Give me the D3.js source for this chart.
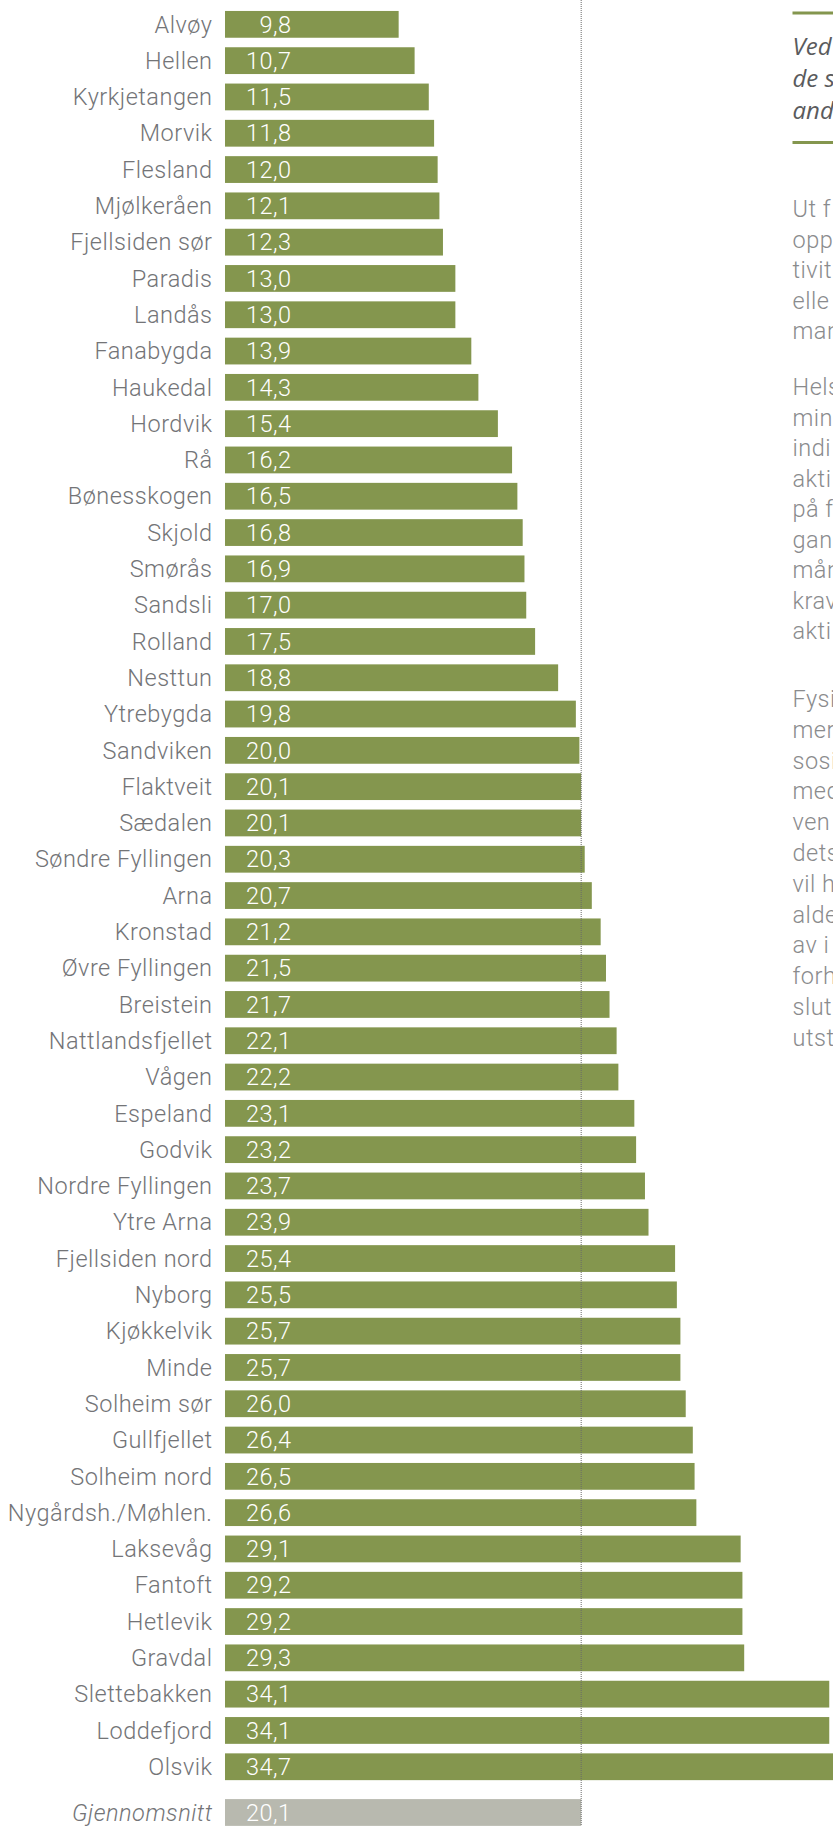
<!DOCTYPE html>
<html>
<head>
<meta charset="utf-8">
<script src="https://cdn.jsdelivr.net/npm/d3@7"></script>
<style>
  body { margin: 0; background: #fff; }
  svg { display: block; }
</style>
</head>
<body>
<svg id="chart"></svg>
<script>
const areas = ["Alvøy", "Hellen", "Kyrkjetangen", "Morvik", "Flesland", "Mjølkeråen", "Fjellsiden sør",
  "Paradis", "Landås", "Fanabygda", "Haukedal", "Hordvik", "Rå", "Bønesskogen", "Skjold", "Smørås",
  "Sandsli", "Rolland", "Nesttun", "Ytrebygda", "Sandviken", "Flaktveit", "Sædalen", "Søndre Fyllingen",
  "Arna", "Kronstad", "Øvre Fyllingen", "Breistein", "Nattlandsfjellet", "Vågen", "Espeland", "Godvik",
  "Nordre Fyllingen", "Ytre Arna", "Fjellsiden nord", "Nyborg", "Kjøkkelvik", "Minde", "Solheim sør",
  "Gullfjellet", "Solheim nord", "Nygårdsh./Møhlen.", "Laksevåg", "Fantoft", "Hetlevik", "Gravdal",
  "Slettebakken", "Loddefjord", "Olsvik"];
const values = [9.8, 10.7, 11.5, 11.8, 12.0, 12.1, 12.3, 13.0, 13.0, 13.9, 14.3, 15.4, 16.2, 16.5, 16.8,
  16.9, 17.0, 17.5, 18.8, 19.8, 20.0, 20.1, 20.1, 20.3, 20.7, 21.2, 21.5, 21.7, 22.1, 22.2, 23.1, 23.2,
  23.7, 23.9, 25.4, 25.5, 25.7, 25.7, 26.0, 26.4, 26.5, 26.6, 29.1, 29.2, 29.2, 29.3, 34.1, 34.1, 34.7];
const averageLabel = "Gjennomsnitt";
const averageValue = 20.1;

// side column, only the part that shows before the page edge
const introLines = ["Ved", "de s", "and"];
const paragraphs = [
  ["Ut f", "opp", "tivit", "elle", "man"],
  ["Hels", "mins", "indi", "akti", "på f", "gan", "mån", "krav", "akti"],
  ["Fysi", "mer", "sosi", "med", "ven", "dets", "vil h", "alde", "av i", "forh", "slut", "utst"]
];

const W = 833, H = 1826;
const green = "#84964e", grey = "#b8b9af", labelColor = "#737477";
const fontFam = "Roboto, 'Liberation Sans', sans-serif";

const svg = d3.select("#chart").attr("width", W).attr("height", H);

const data = areas.map((a, i) => ({ area: a, value: values[i] }));

const x = d3.scaleLinear().domain([0, 10]).range([225, 402.2]);

const y = d3.scaleBand()
  .domain(areas)
  .range([6.2, 6.2 + areas.length * 36.3])
  .paddingInner(0.262)
  .paddingOuter(0.131);

const avgY = y(areas[areas.length - 1]) + y.step() * 1.26;

const fmt = v => d3.format(".1f")(v).replace(".", ",");

const textStyle = sel => sel
  .style("font-family", fontFam)
  .style("font-weight", 300)
  .style("font-size", "23.5px")
  .style("letter-spacing", "0.5px");

// bars
svg.append("g").selectAll("rect")
  .data(data)
  .enter().append("rect")
  .attr("x", x(0))
  .attr("y", d => y(d.area))
  .attr("width", d => x(d.value) - x(0))
  .attr("height", y.bandwidth())
  .style("fill", green);

svg.append("rect")
  .attr("x", x(0))
  .attr("y", avgY)
  .attr("width", x(averageValue) - x(0))
  .attr("height", y.bandwidth())
  .style("fill", grey);

// category labels
svg.append("g").selectAll("text")
  .data(data)
  .enter().append("text")
  .attr("x", 212.5)
  .attr("y", d => y(d.area) + y.bandwidth() / 2)
  .attr("dy", "0.35em")
  .attr("text-anchor", "end")
  .call(textStyle)
  .style("fill", labelColor)
  .text(d => d.area);

svg.append("text")
  .attr("x", 212.5)
  .attr("y", avgY + y.bandwidth() / 2)
  .attr("dy", "0.35em")
  .attr("text-anchor", "end")
  .call(textStyle)
  .style("font-style", "italic")
  .style("fill", labelColor)
  .text(averageLabel);

// value labels inside bars
svg.append("g").selectAll("text")
  .data(data.concat([{ area: null, value: averageValue }]))
  .enter().append("text")
  .attr("x", 291.5)
  .attr("y", d => (d.area ? y(d.area) : avgY) + y.bandwidth() / 2)
  .attr("dy", "0.35em")
  .attr("text-anchor", "end")
  .call(textStyle)
  .style("fill", "#fff")
  .text(d => fmt(d.value));

// dotted average line
svg.append("line")
  .attr("x1", x(averageValue))
  .attr("x2", x(averageValue))
  .attr("y1", 0)
  .attr("y2", H)
  .style("stroke", "#6a6a6a")
  .style("stroke-width", 1)
  .style("stroke-dasharray", "1,1");

// right column
const colX = 792.5;
svg.append("rect").attr("x", colX).attr("y", 11.5).attr("width", W).attr("height", 3).style("fill", green);
svg.append("rect").attr("x", colX).attr("y", 141).attr("width", W).attr("height", 3).style("fill", green);

svg.append("g").selectAll("text")
  .data(introLines)
  .enter().append("text")
  .attr("x", colX)
  .attr("y", (d, i) => 55 + i * 32)
  .style("font-family", "'Open Sans', sans-serif")
  .style("font-style", "italic")
  .style("font-weight", 500)
  .style("font-size", "24px")
  .style("fill", "#5a5b5d")
  .text(d => d);

const paraStart = [217, 395, 707];
const paraStep = [30.5, 30.5, 30.8];
paragraphs.forEach((lines, p) => {
  svg.append("g").selectAll("text")
    .data(lines)
    .enter().append("text")
    .attr("x", colX)
    .attr("y", (d, i) => paraStart[p] + i * paraStep[p])
    .call(textStyle)
    .style("fill", "#8a8b8d")
    .text(d => d);
});
</script>
</body>
</html>
